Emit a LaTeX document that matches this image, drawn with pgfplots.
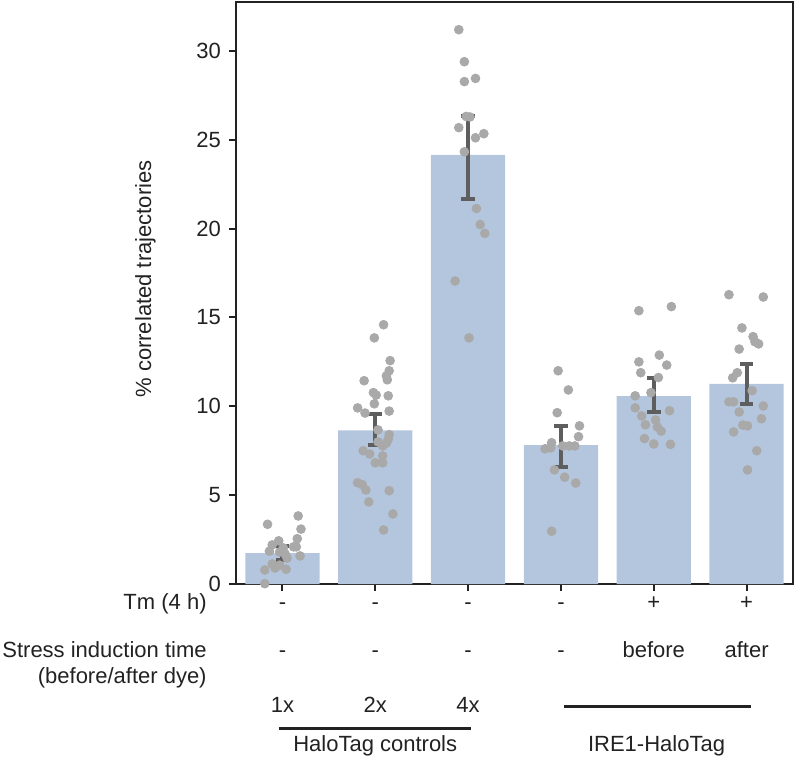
\documentclass[border=0pt]{standalone}
\usepackage{pgfplots}
\pgfplotsset{compat=1.18}
\usepackage{fontspec}
\setmainfont{Liberation Sans}
\definecolor{barblue}{HTML}{B4C6DD}
\definecolor{dotgray}{HTML}{A9A9A9}
\definecolor{errgray}{HTML}{5E5E5E}
\definecolor{axgray}{HTML}{222222}
\begin{document}
\begin{tikzpicture}[font=\fontsize{11}{13}\selectfont]
\begin{axis}[
  name=ax,
  scale only axis,
  width=278.5pt, height=291pt,
  xmin=-0.5, xmax=5.5,
  ymin=0, ymax=32.75,
  axis line style={axgray, line width=1.4pt},
  xtick={0,1,2,3,4,5}, xticklabels={},
  ytick={0,5,10,15,20,25,30},
  tick align=outside,
  major tick length=3.5pt,
  tick style={axgray, line width=1pt},
  xtick pos=bottom, ytick pos=left,
  tick label style={font=\fontsize{11}{13}\selectfont, text=axgray},
  /pgf/number format/assume math mode=true,
  yticklabel style={xshift=-0.5pt},
  clip=false,
]
\addplot[ybar, bar width=0.8, fill=barblue, draw=none] coordinates {
(0,1.74) (1,8.65) (2,24.15) (3,7.82) (4,10.57) (5,11.26)};
\addplot[draw=none, mark=none,
  error bars/.cd, y dir=both, y explicit,
  error bar style={errgray, line width=2pt},
  error mark options={errgray, rotate=90, mark size=3.4pt, line width=2pt}]
  table[x=x, y=y, y error=e] {
x y e
0 1.74 0.40
1 8.70 0.87
2 24.02 2.33
3 7.75 1.15
4 10.64 0.96
5 11.26 1.12
};
\addplot[only marks, mark=*, color=dotgray, mark size=2.2pt] table {
x y
-0.16 3.36
0.17 3.83
0.20 3.09
0.16 2.55
-0.04 2.43
-0.11 2.20
0.12 2.09
0.15 2.09
0.01 2.03
-0.14 1.85
-0.03 1.80
0.03 1.69
0.19 1.58
0.05 1.46
-0.11 1.13
-0.08 0.90
-0.19 0.79
0.04 0.83
-0.03 1.06
-0.19 0.02
1.09 14.59
0.99 13.85
1.16 12.57
1.15 12.00
1.12 11.71
1.13 11.49
0.88 11.44
0.98 10.77
1.01 10.63
1.14 10.59
0.99 10.14
0.81 9.91
0.89 9.62
1.15 9.73
1.03 8.67
1.15 8.40
1.14 8.15
1.12 7.93
1.03 8.00
1.08 7.77
0.87 7.50
0.94 7.32
1.08 7.21
1.00 6.82
1.08 6.82
0.81 5.70
0.86 5.59
0.90 5.29
1.15 5.25
0.93 4.62
1.19 3.94
1.09 3.04
1.90 31.19
1.96 29.39
1.96 28.27
2.08 28.45
1.98 26.31
2.02 26.28
1.90 25.68
2.17 25.34
2.08 25.11
1.96 24.32
2.09 21.13
2.13 20.23
2.18 19.73
1.86 17.05
2.01 13.85
2.97 12.00
3.08 10.92
2.96 9.64
3.20 8.90
3.19 8.29
2.90 7.95
2.83 7.61
2.89 7.66
3.02 7.77
3.09 7.77
3.15 7.77
2.93 6.42
3.04 6.01
3.16 5.68
2.90 2.97
3.84 15.38
4.19 15.61
4.06 12.88
3.84 12.50
4.14 12.32
3.86 11.89
4.05 11.62
3.97 10.77
3.80 10.59
3.80 9.91
4.17 9.75
3.87 9.46
4.02 9.23
3.91 8.96
4.04 8.83
4.08 8.60
3.90 8.18
4.00 7.88
4.18 7.86
4.81 16.28
5.18 16.15
4.95 14.41
5.07 13.92
5.09 13.63
5.13 13.51
4.92 13.22
4.90 11.89
4.85 11.60
5.06 10.88
4.81 10.25
4.86 10.25
5.18 10.02
4.92 9.68
5.16 9.30
4.96 8.94
5.01 8.90
4.86 8.56
5.11 7.50
5.01 6.42
};
% row texts
\tikzset{rowtxt/.style={text=axgray, inner sep=0pt, text height=1.45ex, text depth=0.3ex}}
\node[rowtxt, anchor=east] at ([xshift=-14.5pt, yshift=-9.5pt]rel axis cs:0,0) {Tm (4 h)};
\node[rowtxt, anchor=east] at ([xshift=-14.5pt, yshift=-33.5pt]rel axis cs:0,0) {Stress induction time};
\node[rowtxt, anchor=east] at ([xshift=-14.5pt, yshift=-46.5pt]rel axis cs:0,0) {(before/after dye)};
\foreach \i/\t in {0/-,1/-,2/-,3/-,4/+,5/+} {
  \edef\tmp{\noexpand\node[rowtxt] at ([yshift=-9.5pt]axis cs:\i,0) {\t};}\tmp
}
\foreach \i/\t in {0/-,1/-,2/-,3/-,4/before,5/after} {
  \edef\tmp{\noexpand\node[rowtxt] at ([yshift=-33.5pt]axis cs:\i,0) {\t};}\tmp
}
\foreach \i/\t in {0/1x,1/2x,2/4x} {
  \edef\tmp{\noexpand\node[rowtxt] at ([yshift=-61pt]axis cs:\i,0) {\t};}\tmp
}
\draw[axgray, line width=1.5pt] ([yshift=-72pt]axis cs:-0.04,0) -- ([yshift=-72pt]axis cs:2.03,0);
\draw[axgray, line width=1.5pt] ([yshift=-61pt]axis cs:3.03,0) -- ([yshift=-61pt]axis cs:5.05,0);
\node[rowtxt] at ([yshift=-80.5pt]axis cs:1.0,0) {HaloTag controls};
\node[rowtxt] at ([yshift=-80.5pt]axis cs:4.03,0) {IRE1-HaloTag};
\node[rowtxt, rotate=90] at ([xshift=-45.5pt, yshift=152.5pt]rel axis cs:0,0) {\% correlated trajectories};
\end{axis}
\useasboundingbox ([xshift=-118pt, yshift=-86pt]ax.south west) rectangle ([xshift=280pt, yshift=292pt]ax.south west);
\end{tikzpicture}
\end{document}
